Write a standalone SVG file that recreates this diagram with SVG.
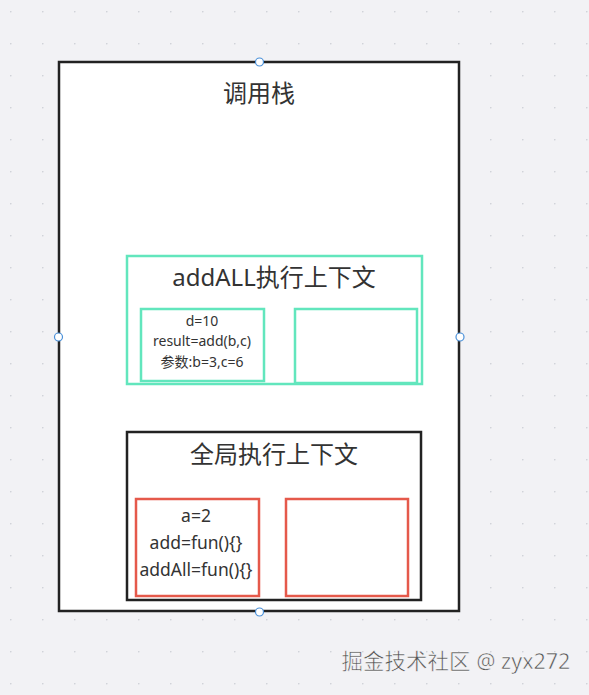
<svg xmlns="http://www.w3.org/2000/svg" width="589" height="695" viewBox="0 0 589 695">
<defs>
<pattern id="grid" x="10" y="11" width="32" height="32" patternUnits="userSpaceOnUse">
<circle cx="0.8" cy="0.8" r="0.8" fill="#c9ccd3"/>
</pattern>
<style>
text{font-family:"Noto Sans","Noto Sans CJK SC",sans-serif;fill:#333;text-anchor:middle}
.title{font-size:24px}
.small{font-size:14px}
.mid{font-size:17.5px}
.mint{fill:#fff;stroke:#62e6bd;stroke-width:2.5}
.red{fill:#fff;stroke:#e5594b;stroke-width:2.5}
.black{fill:#fff;stroke:#222;stroke-width:2.5}
.handle{fill:#fff;stroke:#4a90d9;stroke-width:1.2}
</style>
</defs>
<rect width="589" height="695" fill="#f2f2f5"/>
<rect width="589" height="695" fill="url(#grid)"/>
<g id="callstack">
<rect class="black" x="59" y="62" width="400" height="549"/>
<text class="title" x="259" y="102">调用栈</text>
</g>
<g id="addall-context">
<rect class="mint" x="127" y="256" width="295" height="128"/>
<text class="title" x="274" y="286">addALL执行上下文</text>
</g>
<g id="addall-vars">
<rect class="mint" x="141" y="309" width="123" height="72"/>
<text class="small" x="202" y="326">d=10</text>
<text class="small" x="202" y="346">result=add(b,c)</text>
<text class="small" x="202" y="367">参数:b=3,c=6</text>
</g>
<g id="addall-right">
<rect class="mint" x="295" y="309" width="122" height="74"/>
</g>
<g id="global-context">
<rect class="black" x="127" y="432" width="294" height="168"/>
<text class="title" x="274" y="463">全局执行上下文</text>
</g>
<g id="global-vars">
<rect class="red" x="136" y="499" width="123" height="97"/>
<text class="mid" x="196" y="522">a=2</text>
<text class="mid" x="196" y="549">add=fun(){}</text>
<text class="mid" x="196" y="576">addAll=fun(){}</text>
</g>
<g id="global-right">
<rect class="red" x="286" y="499" width="122" height="97"/>
</g>
<g id="connectors"></g>
<g id="handles">
<circle class="handle" cx="259.5" cy="62" r="4"/>
<circle class="handle" cx="58.5" cy="337" r="4"/>
<circle class="handle" cx="460" cy="337" r="4"/>
<circle class="handle" cx="259.5" cy="612" r="4"/>
</g>
<text x="456" y="669" style="font-size:21.5px;fill:#555;stroke:#ffffff;stroke-width:0.5">掘金技术社区 @ zyx272</text>
</svg>
